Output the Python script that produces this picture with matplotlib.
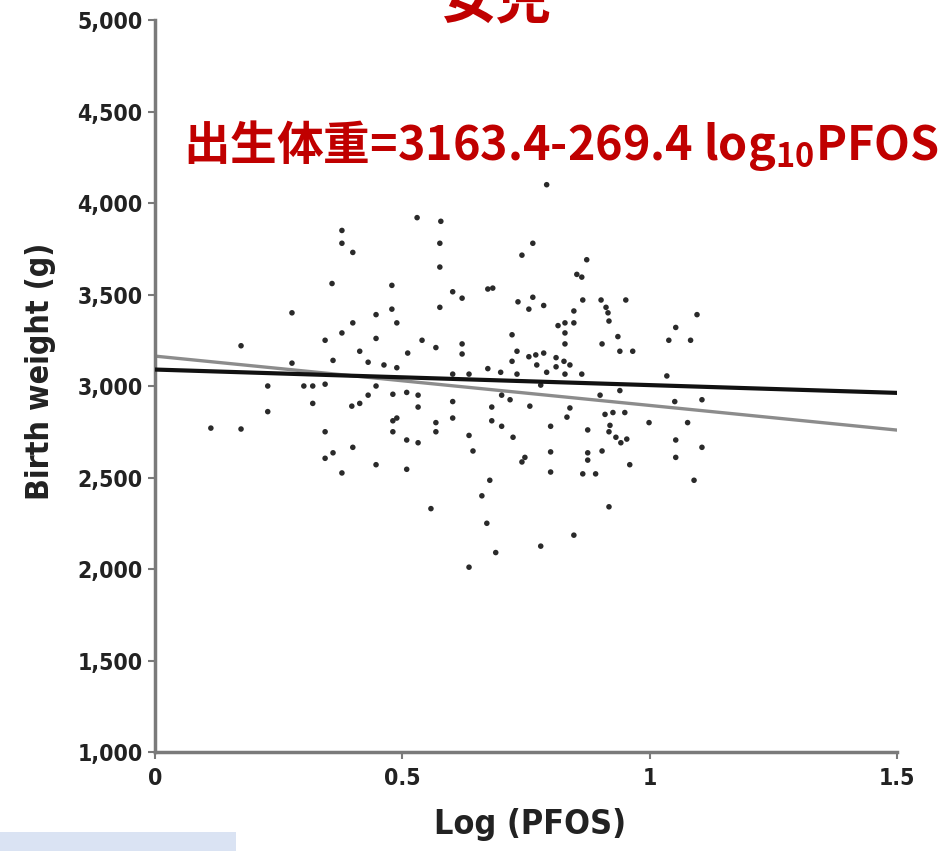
import matplotlib
matplotlib.use("Agg")
import matplotlib.pyplot as plt
from matplotlib import patches
import numpy as np

# log10 PFOS and birth weight (g)
log_pfos = [0.378, 0.378, 0.400, 0.530, 0.578, 0.358, 0.479, 0.277, 0.479, 0.447,
            0.400, 0.489, 0.378, 0.344, 0.447, 0.540, 0.568, 0.174, 0.414, 0.511,
            0.277, 0.360, 0.431, 0.463, 0.489, 0.792, 0.576, 0.576, 0.764, 0.742,
            0.873, 0.853, 0.863, 0.602, 0.621, 0.673, 0.683, 0.576, 0.734, 0.764,
            0.756, 0.786, 0.865, 0.902, 0.952, 0.847, 0.912, 0.916, 0.918, 0.815,
            0.829, 0.847, 0.829, 0.722, 0.829, 0.904, 0.936, 0.940, 0.966, 1.053,
            1.039, 0.621, 0.621, 0.732, 0.722, 0.756, 0.770, 0.786, 0.772, 0.811,
            0.811, 0.827, 0.839, 0.792, 0.673, 0.699, 0.732, 0.829, 0.863, 1.035,
            0.602, 0.635, 1.096, 1.083, 0.228, 0.301, 0.319, 0.344, 0.447, 0.431,
            0.481, 0.509, 0.532, 0.532, 0.319, 0.228, 0.398, 0.414, 0.113, 0.174,
            0.344, 0.481, 0.489, 0.481, 0.568, 0.568, 0.509, 0.532, 0.400, 0.344,
            0.360, 0.447, 0.378, 0.509, 0.558, 0.780, 0.940, 0.900, 0.602, 0.681,
            0.701, 0.718, 0.758, 0.833, 0.839, 0.910, 0.926, 0.950, 1.051, 0.999,
            0.602, 0.681, 0.701, 0.635, 0.724, 0.800, 0.875, 0.920, 0.918, 0.932,
            0.942, 0.954, 1.053, 1.053, 0.643, 0.800, 0.875, 0.875, 0.904, 0.748,
            0.742, 0.960, 0.800, 0.865, 0.891, 0.677, 0.661, 0.918, 0.671, 0.847,
            0.780, 0.689, 0.635, 1.106, 1.077, 1.106, 1.090]
birth_weight = [3850, 3780, 3730, 3920, 3900, 3560, 3550, 3400, 3420, 3390,
                3345, 3345, 3290, 3250, 3260, 3250, 3210, 3220, 3190, 3180,
                3125, 3140, 3130, 3115, 3100, 4100, 3780, 3650, 3780, 3715,
                3690, 3610, 3595, 3515, 3480, 3530, 3535, 3430, 3460, 3485,
                3420, 3440, 3470, 3470, 3470, 3410, 3430, 3400, 3355, 3330,
                3345, 3345, 3290, 3280, 3230, 3230, 3270, 3190, 3190, 3320,
                3250, 3230, 3175, 3190, 3135, 3160, 3170, 3180, 3115, 3155,
                3105, 3135, 3115, 3075, 3095, 3075, 3065, 3065, 3065, 3055,
                3065, 3065, 3390, 3250, 3000, 3000, 3000, 3010, 3000, 2950,
                2955, 2965, 2950, 2885, 2905, 2860, 2890, 2905, 2770, 2765,
                2750, 2810, 2825, 2750, 2800, 2750, 2705, 2690, 2665, 2605,
                2635, 2570, 2525, 2545, 2330, 3005, 2975, 2950, 2915, 2885,
                2950, 2925, 2890, 2830, 2880, 2845, 2855, 2855, 2915, 2800,
                2825, 2810, 2780, 2730, 2720, 2780, 2760, 2785, 2750, 2720,
                2690, 2710, 2705, 2610, 2645, 2640, 2635, 2595, 2645, 2610,
                2585, 2570, 2530, 2520, 2520, 2485, 2400, 2340, 2250, 2185,
                2125, 2090, 2010, 2925, 2800, 2665, 2485]

# fitted lines: adjusted (black) and the crude fit from the formula (gray)
adj_intercept, adj_slope = 3090, -85
crude_intercept, crude_slope = 3163.4, -269.4

yticks = [1000, 1500, 2000, 2500, 3000, 3500, 4000, 4500, 5000]
xticks = [0, 0.5, 1, 1.5]
xticklabels = ['0', '0.5', '1', '1.5']

narrow = ['DejaVu Sans']
cjk = ['Noto Sans CJK JP', 'DejaVu Sans']

fig = plt.figure(figsize=(9.45, 8.51), dpi=100)
ax = fig.add_axes([0.164, 0.1163, 0.785, 0.8602])

ax.scatter(log_pfos, birth_weight, s=16, color='#2a2a2a', edgecolors='none', zorder=3)

xl = np.array([0, 1.5])
ax.plot(xl, crude_intercept + crude_slope * xl, color='#8c8c8c', lw=2.4, zorder=2)
ax.plot(xl, adj_intercept + adj_slope * xl, color='#111111', lw=3.0, zorder=4)

ax.set_xlim(0, 1.5)
ax.set_ylim(1000, 5000)
ax.set_yticks(yticks)
ax.set_yticklabels([f'{v:,}' for v in yticks])
ax.set_xticks(xticks)
ax.set_xticklabels(xticklabels)

for s in ['top', 'right']:
    ax.spines[s].set_visible(False)
for s in ['left', 'bottom']:
    ax.spines[s].set_color('#7a7a7a')
    ax.spines[s].set_linewidth(2.5)
ax.tick_params(direction='out', length=5, width=1.5, color='#7a7a7a', pad=4)
ax.tick_params(axis='x', pad=6)
for lab in ax.get_xticklabels() + ax.get_yticklabels():
    lab.set_family(narrow)
    lab.set_stretch('condensed')
    lab.set_fontweight('bold')
    lab.set_fontsize(16.5)
    lab.set_color('#222222')

ax.set_ylabel('Birth weight (g)', family=narrow, fontstretch='condensed', fontweight='bold',
              fontsize=23, color='#222222')
ax.yaxis.set_label_coords(-0.134, 0.52)
ax.set_xlabel('Log (PFOS)', family=narrow, fontstretch='condensed', fontweight='bold',
              fontsize=24.5, color='#222222')
ax.xaxis.set_label_coords(0.505, -0.076)

plt.rcParams['mathtext.fontset'] = 'custom'
plt.rcParams['mathtext.rm'] = 'Noto Sans CJK JP:bold'
plt.rcParams['mathtext.it'] = 'Noto Sans CJK JP:bold'
plt.rcParams['mathtext.bf'] = 'Noto Sans CJK JP:bold'

fig.text(0.194, 0.829, '出生体重=3163.4-269.4 log$_{10}$PFOS', family=cjk,
         fontweight='bold', fontsize=33.6, color='#c00000', va='center', ha='left')

fig.text(0.525, 0.965, '女児', family=cjk, fontweight='bold', fontsize=40,
         color='#c00000', ha='center', va='bottom')

fig.patches.append(patches.Rectangle((0, 0), 236 / 945, 19 / 851, transform=fig.transFigure,
                                     facecolor='#dae3f3', edgecolor='none'))

fig.savefig('out.png', dpi=100)
